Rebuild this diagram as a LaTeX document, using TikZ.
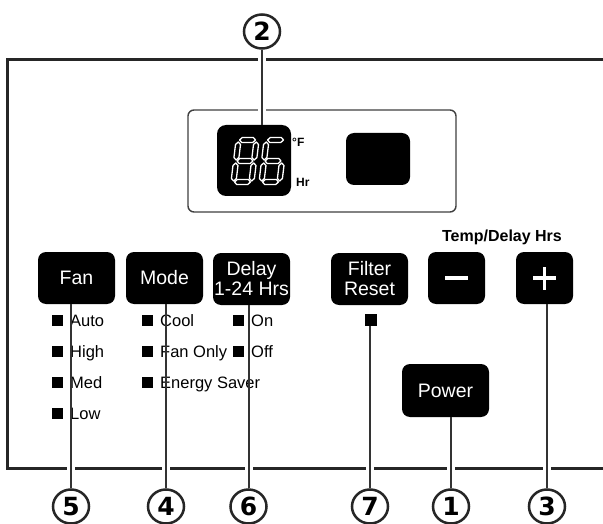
\documentclass[tikz,border=0pt]{standalone}
\usepackage{fontspec}
\setmainfont{Liberation Sans}
\newfontfamily\numfont{DejaVu Sans}
\usetikzlibrary{shapes.geometric}
\newcommand\hsg[1]{\draw[seg] (1,#1) -- (3.5,#1+2.5) -- (14.5,#1+2.5) -- (17,#1) -- (14.5,#1-2.5) -- (3.5,#1-2.5) -- cycle;}
\newcommand\vsg[2]{\draw[seg] (#1,#2+1) -- (#1+2.5,#2+3.5) -- (#1+2.5,#2+16.5) -- (#1,#2+19) -- (#1-2.5,#2+16.5) -- (#1-2.5,#2+3.5) -- cycle;}
\begin{document}
\begin{tikzpicture}[x=1pt,y=-1pt,
  btn/.style={fill=black, rounded corners=8pt, text=white, font=\fontsize{19.5}{20}\selectfont, align=center, inner sep=0pt, minimum height=52pt},
  wbtn/.style={btn, minimum width=77pt},
  nbtn/.style={btn, minimum width=57pt},
  led/.style={fill=black, minimum size=11pt, inner sep=0pt},
  lbl/.style={anchor=base west, font=\fontsize{16.5}{18}\selectfont, inner sep=0pt},
  num/.style={ellipse, draw=black!85, line width=2.5pt, minimum width=36pt, minimum height=34pt, inner sep=0pt, font=\numfont\bfseries\fontsize{25}{25}\selectfont},
  lead/.style={draw=black!80, line width=2pt},
  gap/.style={draw=white, line width=8pt},
  frame/.style={draw=black!85, line width=3pt},
  seg/.style={draw=white, fill=black, line width=1.3pt, line join=round},
  sym/.style={draw=white, line width=3.5pt}
]
\useasboundingbox (0,0) rectangle (603,524);
\clip (0,0) rectangle (603,524);
\fill[white] (0,0) rectangle (603,524);

% panel frame
\coordinate (ftop) at (0,60);
\coordinate (fbot) at (0,468);
\draw[frame] (610,60) -- (7.5,60) -- (7.5,468) -- (610,468);

% display
\node[draw=black!75, line width=1.4pt, rounded corners=6pt, minimum width=268pt, minimum height=102pt, inner sep=0pt] (disp) at (322,161) {};
\node[fill=black, rounded corners=9pt, minimum width=74pt, minimum height=71pt, inner sep=0pt] (dbox) at (254,160.5) {};
\node[fill=black, rounded corners=8pt, minimum width=64pt, minimum height=52pt, inner sep=0pt] (rbox) at (378,159) {};
\begin{scope}[shift={(233.5,182)}, x=1pt, y=1pt, xslant=0.12]
  \hsg{0}\hsg{21}\hsg{42}\vsg{0}{0}\vsg{0}{21}\vsg{18}{0}\vsg{18}{21}
\end{scope}
\begin{scope}[shift={(261.5,182)}, x=1pt, y=1pt, xslant=0.12]
  \hsg{0}\hsg{21}\hsg{42}\vsg{0}{0}\vsg{0}{21}\vsg{18}{0}
\end{scope}
\node[anchor=base west, inner sep=0pt, font=\bfseries\fontsize{12}{13}\selectfont] (degf) at (292,147) {°F};
\node[anchor=base west, inner sep=0pt, font=\bfseries\fontsize{12}{13}\selectfont] (hr) at (296,186) {Hr};

% buttons
\node[wbtn] (fan) at (76.5,278) {Fan};
\node[wbtn] (mode) at (164.5,278) {Mode};
\node[wbtn] (delay) at (251.5,279) {Delay\\1-24 Hrs};
\node[wbtn] (filter) at (369.5,279) {Filter\\Reset};
\node[nbtn] (minus) at (456.5,278) {};
\node[nbtn] (plus) at (544.5,278) {};
\node[btn, minimum width=87pt, minimum height=53pt] (power) at (445.5,390.5) {Power};
\draw[sym] ([xshift=-11.5pt]minus.center) -- ([xshift=11.5pt]minus.center);
\draw[sym] ([xshift=-11.5pt]plus.center) -- ([xshift=11.5pt]plus.center);
\draw[sym] ([yshift=-11.5pt]plus.center) -- ([yshift=11.5pt]plus.center);
\node[anchor=base, inner sep=0pt, font=\bfseries\fontsize{16}{18}\selectfont] (temp) at (502,241) {Temp/Delay Hrs};

% indicator lights and labels
\node[led] (lauto) at (57.5,320.5) {};
\node[led] (lhigh) at (57.5,351.5) {};
\node[led] (lmed) at (57.5,382.5) {};
\node[led] (llow) at (57.5,413.5) {};
\node[lbl] (tauto) at (70,326) {Auto};
\node[lbl] (thigh) at (70,357) {High};
\node[lbl] (tmed) at (70,388) {Med};
\node[lbl] (tlow) at (70,419) {Low};
\node[led] (lcool) at (147.5,320.5) {};
\node[led] (lfanonly) at (147.5,351.5) {};
\node[led] (lsaver) at (147.5,382.5) {};
\node[lbl] (tcool) at (160,326) {Cool};
\node[lbl] (tfanonly) at (160,357) {Fan Only};
\node[lbl] (tsaver) at (160,388) {Energy Saver};
\node[led] (lon) at (238.5,320.5) {};
\node[led] (loff) at (238.5,351.5) {};
\node[lbl] (ton) at (251,326) {On};
\node[lbl] (toff) at (251,357) {Off};
\node[led, minimum size=12pt] (lfilter) at (371,320) {};

% callout numbers
\node[num] (c2) at (262,31.5) {2};
\node[num] (c5) at (71,506.5) {5};
\node[num] (c4) at (166,506.5) {4};
\node[num] (c6) at (248.5,506.5) {6};
\node[num] (c7) at (370,506.5) {7};
\node[num] (c1) at (451,506.5) {1};
\node[num] (c3) at (547,506.5) {3};

% gaps in the frame
\draw[gap] (c2.south |- ftop) ++(0,-4) -- ++(0,8);
\draw[gap] (c2.south |- disp.north) ++(0,-2.5) -- ++(0,5);
\foreach \c in {c5,c4,c6,c7,c1,c3}
  \draw[gap] (\c.north |- fbot) ++(0,-4) -- ++(0,8);

% leader lines
\draw[lead] (c2.south) -- (c2.south |- dbox.north);
\draw[lead] (c5.north) -- (c5.north |- fan.south);
\draw[lead] (c4.north) -- (c4.north |- mode.south);
\draw[lead] (c6.north) -- (c6.north |- delay.south);
\draw[lead] (c7.north) -- (c7.north |- lfilter.south);
\draw[lead] (c1.north) -- (c1.north |- power.south);
\draw[lead] (c3.north) -- (c3.north |- plus.south);
\end{tikzpicture}
\end{document}
